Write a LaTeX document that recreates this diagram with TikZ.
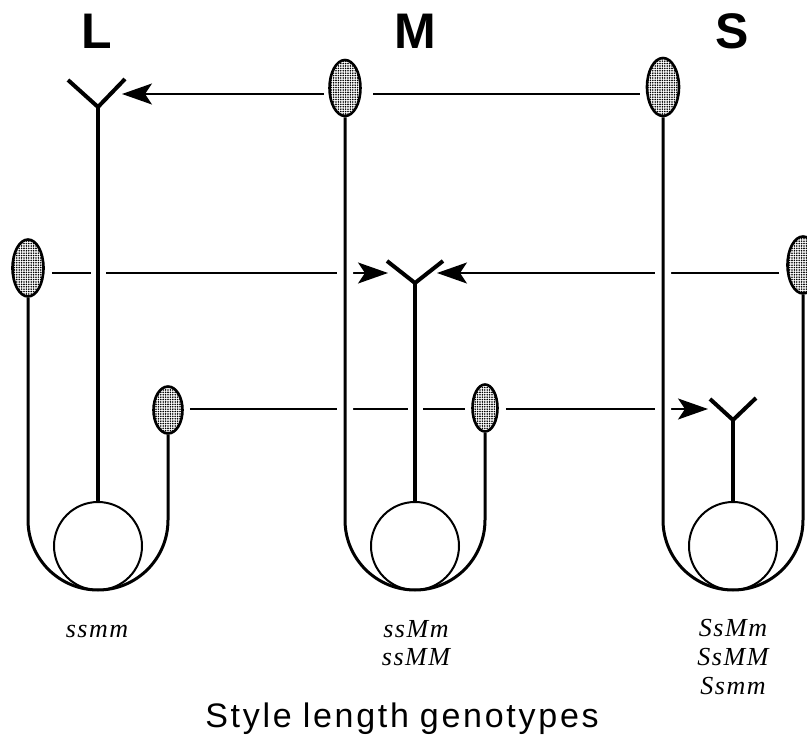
\documentclass[tikz,border=0pt]{standalone}
\usepackage{fontspec}
\setmainfont{Liberation Serif}
\newfontfamily\labelfont{Liberation Sans}
\newfontfamily\titlefont{Liberation Sans}[LetterSpace=8]
\newfontfamily\genofont{Liberation Serif}[LetterSpace=6]
\usetikzlibrary{shapes.geometric,arrows.meta,patterns.meta}
\pgfdeclarelayer{lines}
\pgfdeclarelayer{stalks}
\pgfsetlayers{lines,stalks,main}

\begin{document}
\begin{tikzpicture}[x=1pt,y=-1pt,
  anther/.style={ellipse, draw, line width=2.6pt, inner sep=0pt,
    pattern={Dots[radius=0.9pt,distance=2.4pt]}},
  ovary/.style={circle, draw, line width=2pt, minimum size=88pt, inner sep=0pt},
  filament/.style={line width=3pt, rounded corners=70pt,
    preaction={draw=white, line width=16pt}},
  stylestem/.style={line width=3.5pt, preaction={draw=white, line width=15pt}},
  stigma/.style={line width=4pt, line join=miter},
  pollen/.style={line width=2pt},
  flow/.style={pollen, -{Stealth[length=30pt,width=21pt,inset=7pt]}},
  morph/.style={font=\labelfont\bfseries\fontsize{50}{50}\selectfont, anchor=base},
  geno/.style={font=\genofont\itshape\fontsize{26}{30}\selectfont, anchor=base},
]
\useasboundingbox (0,0) rectangle (807,738);

% ---------- long-styled morph ----------
\coordinate (Lap) at (98,107);
\coordinate (Lsl) at (68,80);
\coordinate (Lsr) at (125,79);
\node[ovary] (Lov) at (98,546) {};
\node[anther, minimum width=31pt, minimum height=57pt] (La1) at (28,268) {};
\node[anther, minimum width=29pt, minimum height=47pt] (La2) at (168,410) {};

% ---------- mid-styled morph ----------
\coordinate (Map) at (415,283);
\coordinate (Msl) at (387,261);
\coordinate (Msr) at (443,261);
\node[ovary] (Mov) at (415,546) {};
\node[anther, minimum width=31pt, minimum height=56pt] (Ma1) at (345,88) {};
\node[anther, minimum width=25pt, minimum height=47pt] (Ma2) at (485,408) {};

% ---------- short-styled morph ----------
\coordinate (Sap) at (733,420);
\coordinate (Ssl) at (710,399);
\coordinate (Ssr) at (756,398);
\node[ovary] (Sov) at (733,546) {};
\node[anther, minimum width=32pt, minimum height=58pt] (Sa1) at (663,87) {};
\node[anther, minimum width=31pt, minimum height=57pt] (Sa2) at (803,265) {};

% pollen targets on the stigmas
\coordinate (Lin) at (122,94);
\coordinate (Minl) at (388,273);
\coordinate (Minr) at (437,273);
\coordinate (Sin) at (708,409);

% ---------- pollen flow lines ----------
\begin{pgfonlayer}{lines}
\draw[pollen, shorten <=6pt, shorten >=11pt] (Sa1.west |- Lin) -- (Ma1.east |- Lin);
\draw[flow, shorten <=4pt] (Ma1.west |- Lin) -- (Lin);
\draw[flow, shorten <=7pt] (La1.east |- Minl) -- (Minl);
\draw[flow, shorten <=7pt] (Sa2.west |- Minr) -- (Minr);
\draw[pollen, shorten <=6pt, shorten >=6pt] (La2.east |- Sin) -- (Ma2.west |- Sin);
\draw[flow, shorten <=7pt] (Ma2.east |- Sin) -- (Sin);
\end{pgfonlayer}

% ---------- filaments (U-shaped) and styles ----------
\begin{pgfonlayer}{stalks}
\draw[filament] (La1.south) -- (28,590) -- (168,590) -- (La2.south);
\draw[filament] (Ma1.south) -- (345,590) -- (485,590) -- (Ma2.south);
\draw[filament] (Sa1.south) -- (663,590) -- (803,590) -- (Sa2.south);

\draw[stylestem] (Lov.north) -- (Lap);
\draw[stylestem] (Mov.north) -- (Map);
\draw[stylestem] (Sov.north) -- (Sap);
\end{pgfonlayer}

\draw[stigma] (Lsl) -- (Lap) -- (Lsr);
\draw[stigma] (Msl) -- (Map) -- (Msr);
\draw[stigma] (Ssl) -- (Sap) -- (Ssr);

% ---------- labels ----------
\node[morph] (tL) at (97,49) {L};
\node[morph] (tM) at (415,49) {M};
\node[morph] (tS) at (732,49) {S};

\node[geno] (g1) at (97,637) {ssmm};
\node[geno] (g2) at (416,637) {ssMm};
\node[geno] (g3) at (416,665) {ssMM};
\node[geno] (g4) at (733,636) {SsMm};
\node[geno] (g5) at (733,665) {SsMM};
\node[geno] (g6) at (733,694) {Ssmm};

\node[font=\titlefont\fontsize{34}{34}\selectfont, anchor=base] (title) at (402,727)
  {Style\hspace{11pt}length\hspace{11pt}genotypes};
\end{tikzpicture}
\end{document}
